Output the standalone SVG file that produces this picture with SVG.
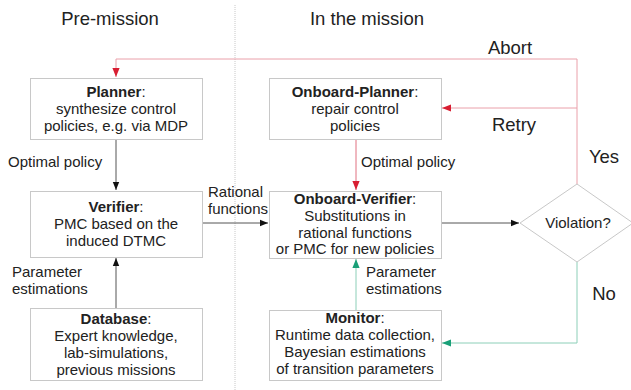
<svg xmlns="http://www.w3.org/2000/svg" width="631" height="390" viewBox="0 0 631 390">
  <style>
    text { font-family: "Liberation Sans", Arial, sans-serif; fill: #222; }
    .body { font-size: 15px; text-anchor: middle; }
    .lbl { font-size: 15px; }
    .big { font-size: 18.5px; }
    .b { font-weight: bold; }
    .box { fill: #fff; stroke: #c8c8c8; stroke-width: 1; }
    .gray { stroke: #555; stroke-width: 1; fill: none; }
    .red { stroke: #eaa0aa; stroke-width: 1; fill: none; }
    .redd { stroke: #e07080; stroke-width: 1; fill: none; }
    .green { stroke: #8ccfb8; stroke-width: 1; fill: none; }
  </style>
  <defs>
    <marker id="ah-black" viewBox="0 0 10 10" refX="10" refY="5" markerWidth="8" markerHeight="8" markerUnits="userSpaceOnUse" orient="auto">
      <path d="M0,1 L10,5 L0,9 Z" fill="#111"/>
    </marker>
    <marker id="ah-red" viewBox="0 0 10 10" refX="10" refY="5" markerWidth="9" markerHeight="9" markerUnits="userSpaceOnUse" orient="auto">
      <path d="M0,1 L10,5 L0,9 Z" fill="#d81e32"/>
    </marker>
    <marker id="ah-green" viewBox="0 0 10 10" refX="10" refY="5" markerWidth="9" markerHeight="9" markerUnits="userSpaceOnUse" orient="auto">
      <path d="M0,1 L10,5 L0,9 Z" fill="#1aa078"/>
    </marker>
  </defs>
  <rect width="631" height="390" fill="#fff"/>

  <!-- phase divider and headings -->
  <line x1="235" y1="5" x2="235" y2="390" stroke="#c8c8c8" stroke-width="1" stroke-dasharray="1,1"/>
  <text class="big" x="110" y="25" text-anchor="middle">Pre-mission</text>
  <text class="big" x="367" y="25" text-anchor="middle">In the mission</text>

  <g id="connectors">
    <!-- Abort loop back to Planner -->
    <polyline class="red" points="577,185 577,59 116,59 116,77" marker-end="url(#ah-red)"/>
    <!-- Retry to Onboard-Planner -->
    <line class="red" x1="577" y1="108" x2="442" y2="108" marker-end="url(#ah-red)"/>
    <!-- Planner -> Verifier -->
    <line class="gray" x1="116" y1="139" x2="116" y2="190" marker-end="url(#ah-black)"/>
    <!-- Database -> Verifier -->
    <line class="gray" x1="116" y1="308" x2="116" y2="258" marker-end="url(#ah-black)"/>
    <!-- Verifier -> Onboard-Verifier -->
    <line class="gray" x1="202" y1="223" x2="268" y2="223" marker-end="url(#ah-black)"/>
    <!-- Onboard-Planner -> Onboard-Verifier -->
    <line class="redd" x1="356" y1="139" x2="356" y2="190" marker-end="url(#ah-red)"/>
    <!-- Monitor -> Onboard-Verifier -->
    <line class="green" x1="356" y1="310" x2="356" y2="259" marker-end="url(#ah-green)"/>
    <!-- Onboard-Verifier -> Violation? -->
    <line class="gray" x1="441" y1="223" x2="519" y2="223" marker-end="url(#ah-black)"/>
    <!-- No -> Monitor -->
    <polyline class="green" points="577,262 577,343 442,343" marker-end="url(#ah-green)"/>

    <text class="big" x="510" y="54" text-anchor="middle">Abort</text>
    <text class="big" x="514" y="131" text-anchor="middle">Retry</text>
    <text class="big" x="604" y="163" text-anchor="middle">Yes</text>
    <text class="big" x="604" y="300" text-anchor="middle">No</text>
    <text class="lbl" x="8" y="167">Optimal policy</text>
    <text class="lbl" x="208" y="197">Rational</text>
    <text class="lbl" x="208" y="214">functions</text>
    <text class="lbl" x="12" y="277">Parameter</text>
    <text class="lbl" x="12" y="294">estimations</text>
    <text class="lbl" x="361" y="167">Optimal policy</text>
    <text class="lbl" x="366" y="277">Parameter</text>
    <text class="lbl" x="366" y="294">estimations</text>
  </g>

  <g id="planner">
    <rect class="box" x="30.5" y="78.5" width="172" height="61"/>
    <text class="body" x="116" y="97"><tspan class="b">Planner</tspan>:</text>
    <text class="body" x="116" y="114">synthesize control</text>
    <text class="body" x="116" y="131">policies, e.g. via MDP</text>
  </g>

  <g id="verifier">
    <rect class="box" x="30.5" y="191.5" width="172" height="66"/>
    <text class="body" x="116" y="212"><tspan class="b">Verifier</tspan>:</text>
    <text class="body" x="116" y="229">PMC based on the</text>
    <text class="body" x="116" y="246">induced DTMC</text>
  </g>

  <g id="database">
    <rect class="box" x="30.5" y="308.5" width="172" height="72"/>
    <text class="body" x="116" y="324"><tspan class="b">Database</tspan>:</text>
    <text class="body" x="116" y="341">Expert knowledge,</text>
    <text class="body" x="116" y="358">lab-simulations,</text>
    <text class="body" x="116" y="375">previous missions</text>
  </g>

  <g id="onboard-planner">
    <rect class="box" x="269.5" y="78.5" width="172" height="61"/>
    <text class="body" x="355" y="97"><tspan class="b">Onboard-Planner</tspan>:</text>
    <text class="body" x="355" y="114">repair control</text>
    <text class="body" x="355" y="131">policies</text>
  </g>

  <g id="onboard-verifier">
    <rect class="box" x="269.5" y="191.5" width="172" height="67"/>
    <text class="body" x="355" y="204"><tspan class="b">Onboard-Verifier</tspan>:</text>
    <text class="body" x="355" y="221">Substitutions in</text>
    <text class="body" x="355" y="238">rational functions</text>
    <text class="body" x="355" y="254">or PMC for new policies</text>
  </g>

  <g id="monitor">
    <rect class="box" x="269.5" y="310.5" width="172" height="70"/>
    <text class="body" x="355" y="323"><tspan class="b">Monitor</tspan>:</text>
    <text class="body" x="355" y="340">Runtime data collection,</text>
    <text class="body" x="355" y="357">Bayesian estimations</text>
    <text class="body" x="355" y="374">of transition parameters</text>
  </g>

  <g id="violation">
    <polygon points="577,184 633,223 577,262 520,223" fill="#fff" stroke="#c8c8c8" stroke-width="1"/>
    <text class="body" x="578" y="228">Violation?</text>
  </g>
</svg>
